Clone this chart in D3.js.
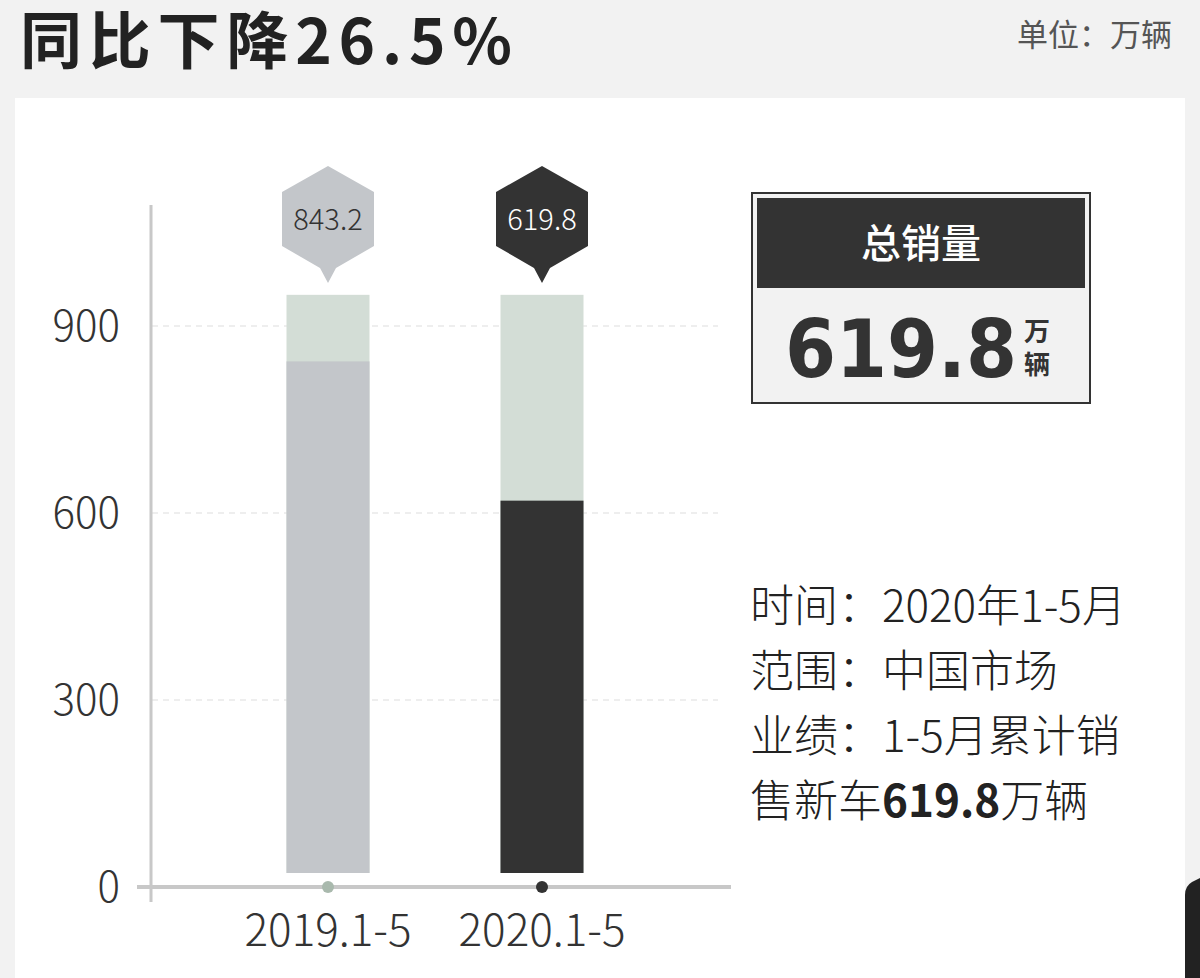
<!DOCTYPE html>
<html lang="zh">
<head>
<meta charset="UTF-8">
<title>同比下降26.5%</title>
<script src="https://cdn.jsdelivr.net/npm/d3@7"></script>
<style>
  body { margin: 0; background: #f2f2f2; }
  svg { display: block; font-family: "Noto Sans CJK SC", "Noto Sans", sans-serif; }
</style>
</head>
<body>
<script>
var categories = ["2019.1-5", "2020.1-5"];
var sales = [843.2, 619.8];
var bgValue = 950;
var yTicks = [0, 300, 600, 900];
var barColors = ["#c3c6ca", "#333333"];
var dotColors = ["#a9b9ad", "#333333"];

var W = 1200, H = 978;
var svg = d3.select("body").append("svg").attr("width", W).attr("height", H);

svg.append("rect").attr("width", W).attr("height", H).attr("fill", "#f2f2f2");
svg.append("rect").attr("x", 15).attr("y", 98).attr("width", 1170).attr("height", 900).attr("fill", "#fff");
// corner mark
svg.append("path").attr("d", "M1200,878 L1192,882 Q1185,886 1185,895 L1185,978 L1200,978 Z").attr("fill", "#222");

svg.append("text").attr("x", 20).attr("y", 64).attr("font-size", 62).attr("font-weight", 700)
  .attr("textLength", 492).attr("fill", "#222").text("同比下降26.5%");
svg.append("text").attr("x", 1172).attr("y", 46).attr("font-size", 31).attr("text-anchor", "end")
  .attr("fill", "#555").text("单位：万辆");

var y = d3.scaleLinear().domain([0, 900]).range([887, 326]);
var x = d3.scalePoint().domain(categories).range([328, 542]);
var bw = 83;

// grid
svg.selectAll(".grid").data(yTicks.filter(d => d > 0)).join("line")
  .attr("x1", 152).attr("x2", 718).attr("y1", d => y(d)).attr("y2", d => y(d))
  .attr("stroke", "#ddd").attr("stroke-dasharray", "6,5").attr("stroke-width", 1);

svg.append("line").attr("x1", 151).attr("x2", 151).attr("y1", 205).attr("y2", 902)
  .attr("stroke", "#c8c8c8").attr("stroke-width", 3);

svg.selectAll(".yl").data(yTicks).join("text")
  .attr("x", 120).attr("y", d => y(d) + 15).attr("text-anchor", "end")
  .attr("font-size", 42).attr("font-weight", 300).attr("fill", "#333").text(d => d);

var bottom = y(0) - 14;
svg.selectAll(".bg").data(categories).join("rect")
  .attr("x", d => x(d) - bw / 2).attr("width", bw)
  .attr("y", y(bgValue)).attr("height", bottom - y(bgValue)).attr("fill", "#d3ddd6");
svg.selectAll(".bar").data(sales).join("rect")
  .attr("x", (d, i) => x(categories[i]) - bw / 2).attr("width", bw)
  .attr("y", d => y(d)).attr("height", d => bottom - y(d)).attr("fill", (d, i) => barColors[i]);

svg.append("line").attr("x1", 137).attr("x2", 731).attr("y1", y(0)).attr("y2", y(0))
  .attr("stroke", "#c8c8c8").attr("stroke-width", 4);

svg.selectAll(".dot").data(categories).join("circle")
  .attr("cx", d => x(d)).attr("cy", y(0)).attr("r", 6)
  .attr("fill", (d, i) => dotColors[i]);

svg.selectAll(".xl").data(categories).join("text")
  .attr("x", d => x(d)).attr("y", 946).attr("text-anchor", "middle")
  .attr("font-size", 44).attr("font-weight", 300).attr("fill", "#333").text(d => d);

// hexagon callouts
var hex = function (cx) {
  var t = 166, r = 46, h = 26;
  return "M" + cx + "," + t + " L" + (cx + r) + "," + (t + h) + " L" + (cx + r) + "," + (t + 80)
    + " L" + (cx + 8) + "," + (t + 102) + " L" + cx + "," + (t + 117) + " L" + (cx - 8) + "," + (t + 102)
    + " L" + (cx - r) + "," + (t + 80) + " L" + (cx - r) + "," + (t + h) + " Z";
};
var g = svg.selectAll(".call").data(sales).join("g");
g.append("path").attr("d", (d, i) => hex(x(categories[i])))
  .attr("fill", (d, i) => barColors[i]);
g.append("text").attr("x", (d, i) => x(categories[i])).attr("y", 230)
  .attr("text-anchor", "middle").attr("font-size", 29).attr("font-weight", 300)
  .attr("fill", (d, i) => i ? "#fff" : "#333").text(d => d.toFixed(1));

// total box
svg.append("rect").attr("x", 752).attr("y", 193).attr("width", 338).attr("height", 210)
  .attr("fill", "#f2f2f2").attr("stroke", "#333").attr("stroke-width", 2);
svg.append("rect").attr("x", 757).attr("y", 198).attr("width", 328).attr("height", 90).attr("fill", "#333");
svg.append("text").attr("x", 921).attr("y", 258).attr("text-anchor", "middle")
  .attr("font-size", 40).attr("font-weight", 500).attr("fill", "#fff").text("总销量");
svg.append("text").attr("x", 785).attr("y", 377).attr("font-size", 80).attr("font-weight", 900)
  .attr("textLength", 232).attr("lengthAdjust", "spacingAndGlyphs")
  .attr("font-family", "'DejaVu Sans', sans-serif").attr("fill", "#333").text(sales[1].toFixed(1));
svg.append("text").attr("x", 1024).attr("y", 341).attr("font-size", 26).attr("font-weight", 700).attr("fill", "#333").text("万");
svg.append("text").attr("x", 1024).attr("y", 374).attr("font-size", 26).attr("font-weight", 700).attr("fill", "#333").text("辆");

// info text
var info = ["时间：2020年1-5月", "范围：中国市场", "业绩：1-5月累计销"];
svg.selectAll(".info").data(info).join("text")
  .attr("x", 750).attr("y", (d, i) => 622 + i * 65).attr("font-size", 44).attr("font-weight", 300)
  .attr("fill", "#222").text(d => d);
var last = svg.append("text").attr("x", 750).attr("y", 817).attr("font-size", 44).attr("font-weight", 300).attr("fill", "#222");
last.append("tspan").text("售新车");
last.append("tspan").attr("font-weight", 700).text(sales[1].toFixed(1));
last.append("tspan").text("万辆");
</script>
</body>
</html>
